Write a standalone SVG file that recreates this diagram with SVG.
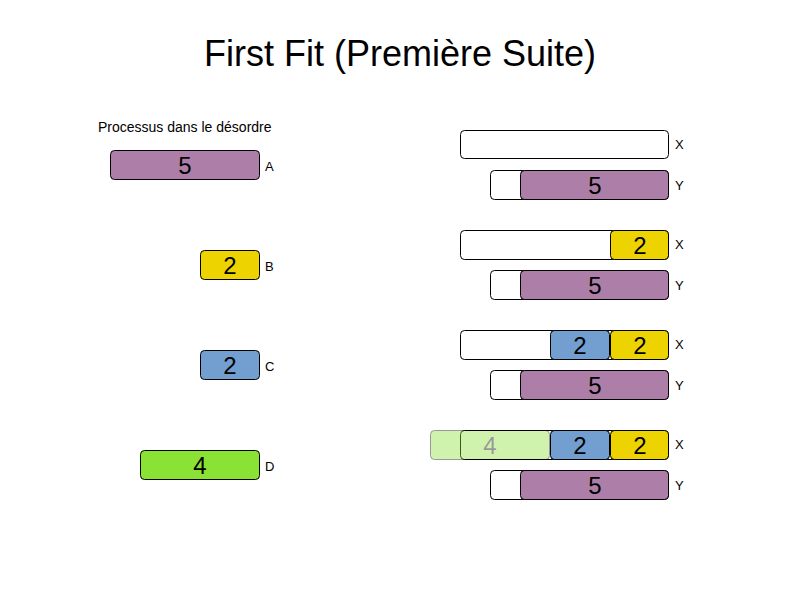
<svg xmlns="http://www.w3.org/2000/svg" width="800" height="600" viewBox="0 0 800 600">
<style>
text{font-family:"Liberation Sans",Arial,sans-serif;fill:#000}
.b{stroke:#000;stroke-width:1}
.w{fill:#fff}
.p{fill:#AD7FA8}
.y{fill:#EDD400}
.u{fill:#729FCF}
.g{fill:#8AE234}
.n{font-size:24px;text-anchor:middle}
.l{font-size:13px}
</style>
<rect width="800" height="600" fill="#fff"/>
<text x="400" y="66" font-size="36" text-anchor="middle">First Fit (Première Suite)</text>
<text x="98" y="132" font-size="14">Processus dans le désordre</text>
<g id="procA"><rect class="b p" x="110.5" y="150.5" width="149" height="29" rx="4"/><text class="n" x="185" y="174">5</text><text class="l" x="265" y="171">A</text></g>
<g id="procB"><rect class="b y" x="200.5" y="250.5" width="59" height="29" rx="4"/><text class="n" x="230" y="274">2</text><text class="l" x="265" y="271">B</text></g>
<g id="procC"><rect class="b u" x="200.5" y="350.5" width="59" height="29" rx="4"/><text class="n" x="230" y="374">2</text><text class="l" x="265" y="371">C</text></g>
<g id="procD"><rect class="b g" x="140.5" y="450.5" width="119" height="29" rx="4"/><text class="n" x="200" y="474">4</text><text class="l" x="265" y="471">D</text></g>

<g id="step1">
<rect class="b w" x="460.5" y="130.5" width="208" height="28" rx="4"/><text class="l" x="675" y="149">X</text>
<rect class="b w" x="490.5" y="170.5" width="178" height="29" rx="4"/>
<rect class="b p" x="520.5" y="170.5" width="148" height="29" rx="4"/><text class="n" x="595" y="194">5</text><text class="l" x="675" y="190">Y</text>
</g>
<g id="step2">
<rect class="b w" x="460.5" y="230.5" width="208" height="29" rx="4"/>
<rect class="b y" x="610.5" y="230.5" width="58" height="29" rx="4"/><text class="n" x="640" y="254">2</text><text class="l" x="675" y="249">X</text>
<rect class="b w" x="490.5" y="270.5" width="178" height="29" rx="4"/>
<rect class="b p" x="520.5" y="270.5" width="148" height="29" rx="4"/><text class="n" x="595" y="294">5</text><text class="l" x="675" y="290">Y</text>
</g>
<g id="step3">
<rect class="b w" x="460.5" y="330.5" width="208" height="29" rx="4"/>
<rect class="b u" x="550.5" y="330.5" width="59" height="29" rx="4"/><text class="n" x="580" y="354">2</text>
<rect class="b y" x="610.5" y="330.5" width="58" height="29" rx="4"/><text class="n" x="640" y="354">2</text><text class="l" x="675" y="349">X</text>
<rect class="b w" x="490.5" y="370.5" width="178" height="29" rx="4"/>
<rect class="b p" x="520.5" y="370.5" width="148" height="29" rx="4"/><text class="n" x="595" y="394">5</text><text class="l" x="675" y="390">Y</text>
</g>
<g id="step4">
<rect class="b w" x="460.5" y="430.5" width="208" height="29" rx="4"/>
<g opacity="0.4"><rect class="b g" x="430.5" y="430.5" width="119" height="29" rx="4"/><text class="n" x="490" y="454">4</text></g>
<rect class="b u" x="550.5" y="430.5" width="59" height="29" rx="4"/><text class="n" x="580" y="454">2</text>
<rect class="b y" x="610.5" y="430.5" width="58" height="29" rx="4"/><text class="n" x="640" y="454">2</text><text class="l" x="675" y="449">X</text>
<rect class="b w" x="490.5" y="470.5" width="178" height="29" rx="4"/>
<rect class="b p" x="520.5" y="470.5" width="148" height="29" rx="4"/><text class="n" x="595" y="494">5</text><text class="l" x="675" y="490">Y</text>
</g>
<g id="connectors"/>
</svg>
